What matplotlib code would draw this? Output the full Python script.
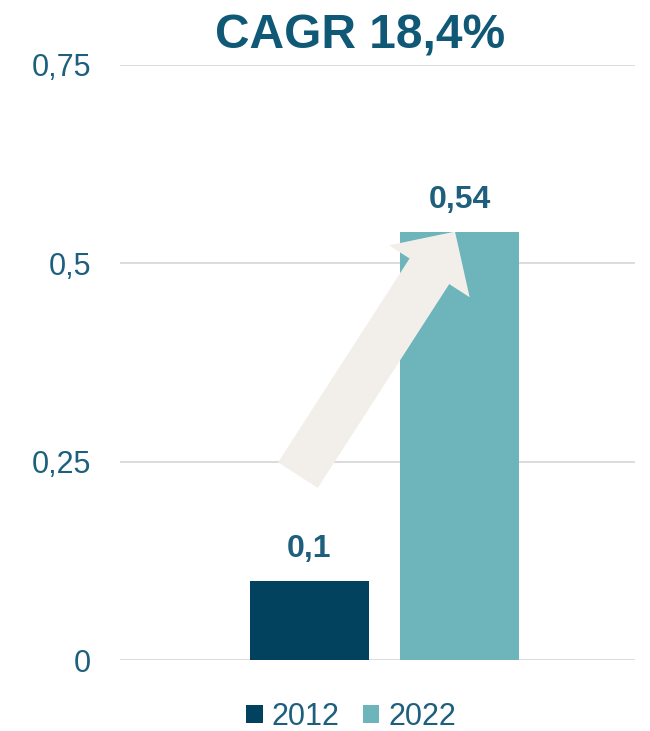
import matplotlib
matplotlib.use("Agg")
import matplotlib.pyplot as plt
from matplotlib.patches import Patch

plt.rcParams['font.family'] = ['Liberation Sans', 'DejaVu Sans']

# data
years = ['2012', '2022']
values = [0.1, 0.54]
bar_colors = ['#02425f', '#6db4bb']
yticks = [0, 0.25, 0.5, 0.75]
ytick_labels = ['0', '0,25', '0,5', '0,75']
title = 'CAGR 18,4%'

text_color = '#1d5f7d'
title_color = '#0f5876'
grid_color = '#d9d9d9'
arrow_color = '#f2efea'

fig = plt.figure(figsize=(6.5, 7.31), dpi=100)
ax = fig.add_axes([120 / 650, 71 / 731, 515 / 650, 595 / 731])

xpos = list(range(len(values)))
ax.bar(xpos, values, width=0.793, color=bar_colors, zorder=2)

for x, v in zip(xpos, values):
    label = ('%g' % v).replace('.', ',')
    ax.annotate(label, (x, v), xytext=(0, 12), textcoords='offset points',
                ha='center', va='bottom', fontsize=23, fontweight='bold',
                color=text_color)

# growth arrow from the 2012 bar up to the 2022 bar top
ax.annotate('', xy=(0.97, values[1]), xytext=(-0.077, 0.233),
            arrowprops=dict(arrowstyle='simple,head_length=34,head_width=69,tail_width=34',
                            mutation_scale=1, color=arrow_color, lw=0,
                            shrinkA=0, shrinkB=0),
            zorder=3)

ax.set_xlim(-1.263, 2.17)
ax.set_ylim(0, 0.75)
ax.set_yticks(yticks)
ax.set_yticklabels(ytick_labels, fontsize=22, color=text_color)
ax.tick_params(axis='y', length=0, pad=21)
ax.set_xticks([])
ax.yaxis.grid(True, color=grid_color, lw=1.3, zorder=0)
ax.set_axisbelow(True)
for s in ax.spines.values():
    s.set_visible(False)

fig.text(360 / 650, 1 - 48 / 731, title, ha='center', va='baseline',
         fontsize=34.5, fontweight='bold', color=title_color)

handles = [Patch(facecolor=c, edgecolor='none') for c in bar_colors]
leg = fig.legend(handles, years, loc='center', bbox_to_anchor=(351 / 650, 1 - 717 / 731),
                 ncol=2, frameon=False, fontsize=22, handlelength=0.55, handleheight=0.55,
                 handletextpad=0.3, columnspacing=0.75)
for t in leg.get_texts():
    t.set_color(text_color)

fig.savefig('out.png', dpi=100)
